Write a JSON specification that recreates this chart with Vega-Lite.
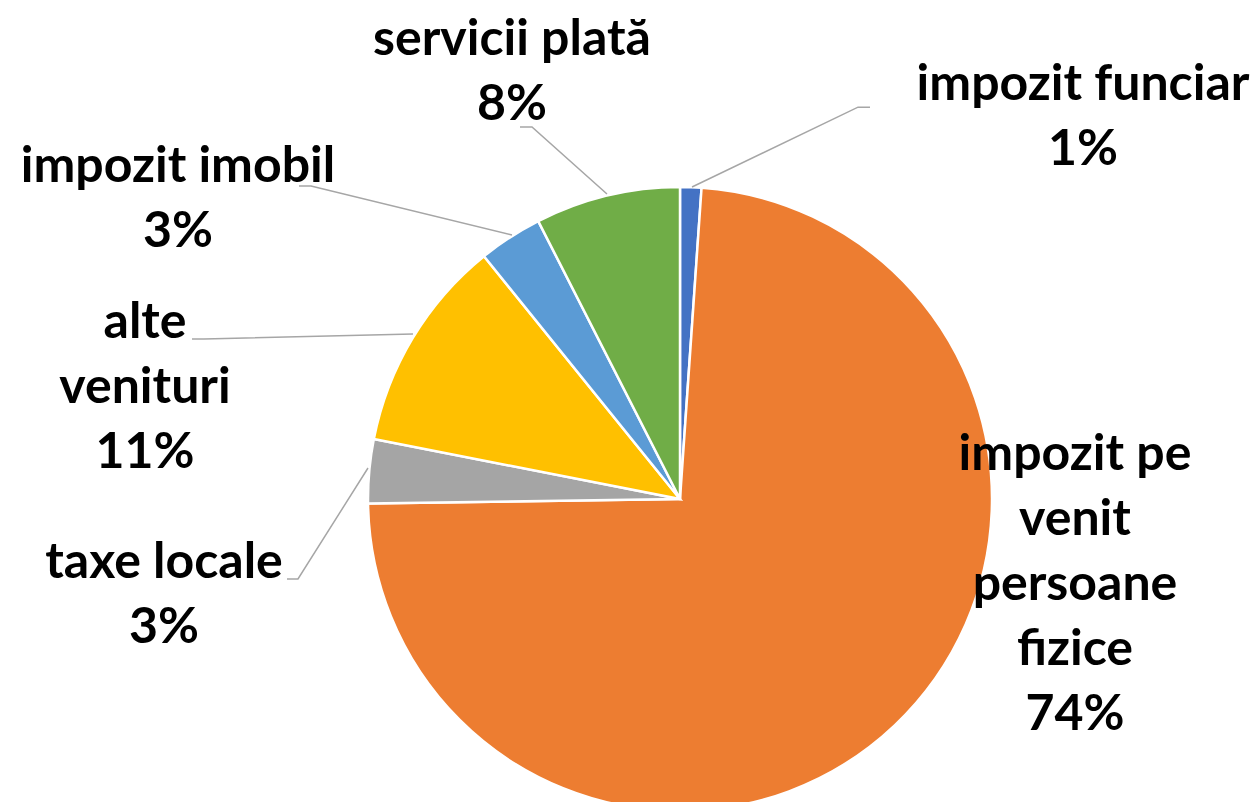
{
  "$schema": "https://vega.github.io/schema/vega-lite/v6.json",
  "width": 1148,
  "height": 610,
  "autosize": "none",
  "padding": {"left": 106, "top": 194, "right": 0, "bottom": 0},
  "background": "white",
  "config": {"view": {"stroke": null}},
  "datasets": {
    "slices": [
      {"idx": 1, "category": "impozit funciar", "value": 1.1, "label": "impozit funciar\n1%", "labelU": 1.2917, "labelV": 1.2788},
      {"idx": 2, "category": "impozit pe venit persoane fizice", "value": 73.6, "label": "impozit pe\nvenit\npersoane\nfizice\n74%", "labelU": 1.266, "labelV": 0.0929},
      {"idx": 3, "category": "taxe locale", "value": 3.3, "label": "taxe locale\n3%", "labelU": -1.6538, "labelV": -0.2532},
      {"idx": 4, "category": "alte venituri", "value": 11.1, "label": "alte\nvenituri\n11%", "labelU": -1.7147, "labelV": 0.516},
      {"idx": 5, "category": "impozit imobil", "value": 3.3, "label": "impozit imobil\n3%", "labelU": -1.609, "labelV": 1.016},
      {"idx": 6, "category": "servicii plată", "value": 7.5, "label": "servicii plată\n8%", "labelU": -0.5385, "labelV": 1.4231}
    ],
    "leaders": [
      {"category": "impozit funciar", "seq": 1, "u": 0.609, "v": 1.256},
      {"category": "impozit funciar", "seq": 2, "u": 0.5705, "v": 1.256},
      {"category": "impozit funciar", "seq": 3, "u": 0.0385, "v": 1.0},
      {"category": "servicii plată", "seq": 1, "u": -0.5128, "v": 1.1923},
      {"category": "servicii plată", "seq": 2, "u": -0.4744, "v": 1.1923},
      {"category": "servicii plată", "seq": 3, "u": -0.234, "v": 0.9776},
      {"category": "impozit imobil", "seq": 1, "u": -1.2212, "v": 1.0032},
      {"category": "impozit imobil", "seq": 2, "u": -1.1827, "v": 1.0032},
      {"category": "impozit imobil", "seq": 3, "u": -0.5385, "v": 0.8462},
      {"category": "alte venituri", "seq": 1, "u": -1.5641, "v": 0.5128},
      {"category": "alte venituri", "seq": 2, "u": -1.5256, "v": 0.5128},
      {"category": "alte venituri", "seq": 3, "u": -0.8558, "v": 0.5288},
      {"category": "taxe locale", "seq": 1, "u": -1.2596, "v": -0.2564},
      {"category": "taxe locale", "seq": 2, "u": -1.2244, "v": -0.2564},
      {"category": "taxe locale", "seq": 3, "u": -1.0, "v": 0.0994}
    ]
  },
  "layer": [
    {
      "data": {"name": "slices"},
      "mark": {"type": "arc", "outerRadius": 312, "stroke": "white", "strokeWidth": 2.5},
      "encoding": {
        "theta": {"field": "value", "type": "quantitative", "stack": true},
        "order": {"field": "idx", "type": "quantitative"},
        "color": {
          "field": "category",
          "type": "nominal",
          "scale": {
            "domain": ["impozit funciar", "impozit pe venit persoane fizice", "taxe locale", "alte venituri", "impozit imobil", "servicii plată"],
            "range": ["#4472C4", "#ED7D31", "#A5A5A5", "#FFC000", "#5B9BD5", "#70AD47"]
          },
          "legend": null
        }
      }
    },
    {
      "data": {"name": "leaders"},
      "mark": {"type": "line", "color": "#A6A6A6", "strokeWidth": 1.5},
      "encoding": {
        "x": {"field": "u", "type": "quantitative", "scale": {"domain": [-1.8397, 1.8397], "nice": false, "zero": false}, "axis": null},
        "y": {"field": "v", "type": "quantitative", "scale": {"domain": [-0.9776, 0.9776], "nice": false, "zero": false}, "axis": null},
        "detail": {"field": "category", "type": "nominal"},
        "order": {"field": "seq", "type": "quantitative"}
      }
    },
    {
      "data": {"name": "slices"},
      "mark": {"type": "text", "font": "Lato", "fontWeight": "bold", "fontSize": 50, "lineHeight": 65, "lineBreak": "\n", "align": "center", "baseline": "alphabetic", "color": "#000000"},
      "encoding": {
        "x": {"field": "labelU", "type": "quantitative", "scale": {"domain": [-1.8397, 1.8397], "nice": false, "zero": false}, "axis": null},
        "y": {"field": "labelV", "type": "quantitative", "scale": {"domain": [-0.9776, 0.9776], "nice": false, "zero": false}, "axis": null},
        "text": {"field": "label", "type": "nominal"}
      }
    }
  ]
}
